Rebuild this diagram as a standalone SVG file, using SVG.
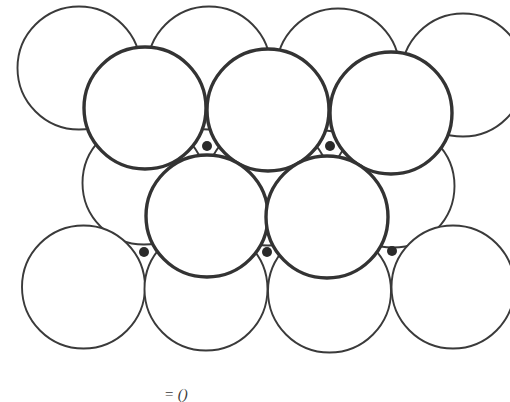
<svg xmlns="http://www.w3.org/2000/svg" width="510" height="402" viewBox="0 0 510 402">
<style>
.thin{fill:#fff;stroke:#3a3a3a;stroke-width:1.9}
.thick{fill:#fff;stroke:#333;stroke-width:3.4}
.dot{fill:#2a2a2a}
.lbl{font-family:"Liberation Serif",serif;font-style:italic;font-size:15px;fill:#3a3a3a}
</style>
<rect width="510" height="402" fill="#fff"/>
<g id="bottom-layer">
<g id="b1"><circle class="thin" cx="79" cy="68" r="61.5"/></g>
<g id="b2"><circle class="thin" cx="209" cy="68" r="61.5"/></g>
<g id="b3"><circle class="thin" cx="338" cy="70" r="61.5"/></g>
<g id="b4"><circle class="thin" cx="463" cy="75" r="61.5"/></g>
<g id="b5"><circle class="thin" cx="144" cy="183" r="61.5"/></g>
<g id="b6"><circle class="thin" cx="268" cy="184" r="61.5"/></g>
<g id="b7"><circle class="thin" cx="393" cy="186" r="61.5"/></g>
<g id="b8"><circle class="thin" cx="83.5" cy="287" r="61.5"/></g>
<g id="b9"><circle class="thin" cx="206" cy="289" r="61.5"/></g>
<g id="b10"><circle class="thin" cx="329.5" cy="291" r="61.5"/></g>
<g id="b11"><circle class="thin" cx="453" cy="287" r="61.5"/></g>
</g>
<g id="top-layer">
<g id="t1"><circle class="thick" cx="145" cy="108" r="61"/></g>
<g id="t2"><circle class="thick" cx="268" cy="110" r="61"/></g>
<g id="t3"><circle class="thick" cx="391" cy="113" r="61"/></g>
<g id="t4"><circle class="thick" cx="207" cy="216" r="61"/></g>
<g id="t5"><circle class="thick" cx="327" cy="217" r="61"/></g>
</g>
<g id="holes">
<g id="h1"><circle class="dot" cx="207" cy="146" r="5"/></g>
<g id="h2"><circle class="dot" cx="330" cy="146" r="5"/></g>
<g id="h3"><circle class="dot" cx="144" cy="252" r="5"/></g>
<g id="h4"><circle class="dot" cx="267" cy="252" r="5"/></g>
<g id="h5"><circle class="dot" cx="392" cy="251" r="5"/></g>
</g>
<text class="lbl" x="164" y="399">= ()</text>
</svg>
